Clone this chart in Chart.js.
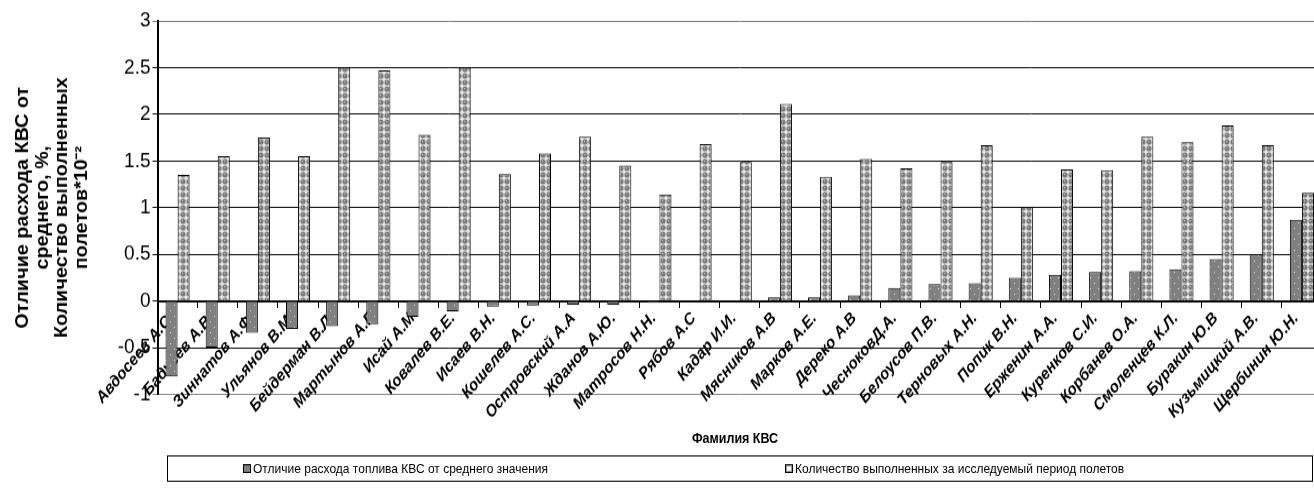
<!DOCTYPE html>
<html lang="ru">
<head>
<meta charset="utf-8">
<title>Отличие расхода топлива КВС</title>
<script src="https://cdn.jsdelivr.net/npm/chart.js@4"></script>
<style>
  html, body { margin: 0; padding: 0; background: #fff; }
  #frame { position: relative; width: 1314px; height: 493px; overflow: hidden; }
  #stage {
    position: absolute;
    left: 0;
    top: 0;
    width: 1336px;
    height: 448px;
    transform: scaleY(1.1);
    transform-origin: 0 0;
    font-family: 'Liberation Sans', Arial, sans-serif;
    color: #000;
  }
  #chart { position: absolute; left: 0; top: 0; }
  #xTitle {
    position: absolute;
    left: 635px;
    width: 200px;
    top: 391px;
    text-align: center;
    font-weight: bold;
    font-size: 12.5px;
    line-height: 16px;
    z-index: 2;
  }
  #seriesKey {
    position: absolute;
    left: 167px;
    top: 414px;
    width: 1146px;
    height: 24px;
    border: 1px solid #000;
    box-sizing: border-box;
    font-size: 12px;
    z-index: 2;
  }
  .item {
    position: absolute;
    top: 0;
    height: 22px;
    display: flex;
    align-items: center;
    white-space: nowrap;
  }
  .swatch {
    width: 8px;
    height: 8px;
    box-sizing: border-box;
    border: 1px solid #000;
    margin-right: 2px;
  }
  .swatch.dark { background: #808080; }
  .swatch.light { background: #fff; box-shadow: inset 0 0 0 1px #999; }
</style>
</head>
<body>
<div id="frame">
  <div id="stage">
    <canvas id="chart" width="1336" height="448"></canvas>
    <div id="xTitle"></div>
    <div id="seriesKey"></div>
  </div>
</div>
<script>
const names = [
  'Авдосеев А.С.', 'Бадусев А.В.', 'Зиннатов А.Ф.', 'Ульянов В.М.', 'Бейдерман В.Л.',
  'Мартынов А.Г', 'Исай А.М', 'Ковалев В.Е.', 'Исаев В.Н.', 'Кошелев А.С.',
  'Островский А.А', 'Жданов А.Ю.', 'Матросов Н.Н.', 'Рябов А.С', 'Кадар И.И.',
  'Мясников А.В', 'Марков А.Е.', 'Дереко А.В', 'ЧесноковД.А.', 'Белоусов П.В.',
  'Терновых А.Н.', 'Попик В.Н.', 'Ерженин А.А.', 'Куренков С.И.', 'Корбанев О.А.',
  'Смоленцев К.Л.', 'Буракин Ю.В', 'Кузьмицкий А.В.', 'Щербинин Ю.Н.'
];

// отличие расхода топлива от среднего, %
const fuelDeviation = [
  -0.81, -0.50, -0.34, -0.30, -0.27, -0.25, -0.17, -0.11, -0.06, -0.05,
  -0.04, -0.04, -0.02, -0.01, 0, 0.04, 0.04, 0.06, 0.14, 0.18,
  0.19, 0.25, 0.28, 0.31, 0.32, 0.34, 0.45, 0.50, 0.87
];

// количество полетов * 10^-2
const flightCount = [
  1.35, 1.55, 1.75, 1.55, 2.50, 2.47, 1.78, 2.50, 1.36, 1.58,
  1.76, 1.45, 1.14, 1.68, 1.49, 2.11, 1.33, 1.52, 1.42, 1.49,
  1.67, 1.01, 1.41, 1.40, 1.76, 1.70, 1.88, 1.67, 1.16
];

const seriesNames = [
  'Отличие расхода топлива КВС от среднего значения',
  'Количество выполненных за исследуемый период полетов'
];
const yTitle = ['Отличие расхода КВС от', 'среднего, %,', 'Количество выполненных', 'полетов*10⁻²'];
const xTitle = 'Фамилия КВС';

const family = "'Liberation Sans', Arial, sans-serif";

function makePattern(w, h, paint) {
  const c = document.createElement('canvas');
  c.width = w;
  c.height = h;
  const g = c.getContext('2d');
  paint(g);
  return g.createPattern(c, 'repeat');
}

// серая заливка с редкими светлыми точками
const darkFill = makePattern(8, 10, g => {
  g.fillStyle = '#808080';
  g.fillRect(0, 0, 8, 10);
  g.fillStyle = '#e0e0e0';
  g.fillRect(2, 2, 1, 1);
  g.fillRect(6, 7, 1, 1);
});

// светлая заливка "кружочки"
const lightFill = makePattern(6, 6, g => {
  g.fillStyle = '#e6e6e6';
  g.fillRect(0, 0, 6, 6);
  g.fillStyle = '#7c7c7c';
  g.beginPath();
  g.arc(3, 3, 2.6, 0, Math.PI * 2);
  g.fill();
  g.fillStyle = '#c8c8c8';
  g.fillRect(2, 2, 1, 1);
});

document.getElementById('xTitle').textContent = xTitle;

const keyBox = document.getElementById('seriesKey');
const keyLeft = [75, 617];
seriesNames.forEach((name, i) => {
  const item = document.createElement('div');
  item.className = 'item';
  item.style.left = keyLeft[i] + 'px';
  const sw = document.createElement('span');
  sw.className = 'swatch ' + (i === 0 ? 'dark' : 'light');
  const txt = document.createElement('span');
  txt.textContent = name;
  item.appendChild(sw);
  item.appendChild(txt);
  keyBox.appendChild(item);
});

new Chart(document.getElementById('chart'), {
  type: 'bar',
  data: {
    labels: names,
    datasets: [
      { label: seriesNames[0], data: fuelDeviation, backgroundColor: darkFill, borderColor: '#000', borderWidth: 1 },
      { label: seriesNames[1], data: flightCount, backgroundColor: lightFill, borderColor: '#000', borderWidth: 1 }
    ]
  },
  options: {
    responsive: false,
    animation: false,
    devicePixelRatio: 1,
    layout: { padding: { left: 0, right: 14, top: 19, bottom: 89.5 } },
    datasets: { bar: { categoryPercentage: 0.6, barPercentage: 1 } },
    plugins: {
      legend: { display: false },
      tooltip: { enabled: false }
    },
    scales: {
      x: {
        position: { y: 0 },
        z: 1,
        offset: true,
        grid: { offset: true, drawOnChartArea: false, tickLength: 5, color: '#000', lineWidth: 1 },
        border: { color: '#000', width: 2 },
        ticks: {
          autoSkip: false,
          minRotation: 47,
          maxRotation: 47,
          padding: 2,
          labelOffset: -6,
          color: '#000',
          font: { family, size: 15, style: 'italic', weight: 'bold' }
        },
        afterFit: s => { s.height = 0; }
      },
      y: {
        min: -1,
        max: 3,
        ticks: {
          stepSize: 0.5,
          color: '#000',
          padding: 2,
          font: { family, size: 19 },
          callback: v => String(v)
        },
        grid: {
          color: c => (c.tick.value === 3 || c.tick.value === -1) ? '#808080' : '#000',
          lineWidth: 1,
          tickLength: 5
        },
        border: { color: '#000', width: 2 },
        title: {
          display: true,
          text: yTitle,
          color: '#000',
          font: { family, size: 18, weight: 'bold', lineHeight: 1.094 },
          padding: { top: 13, bottom: 0 }
        },
        afterFit: s => { s.width = 157.5; }
      }
    }
  }
});
</script>
</body>
</html>
